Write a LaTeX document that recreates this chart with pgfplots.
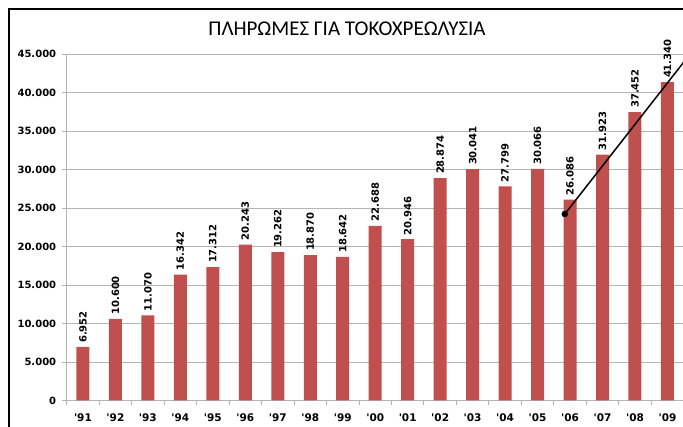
\documentclass[border=0pt]{standalone}
\usepackage{pgfplots}
\pgfplotsset{compat=1.18}
\usepackage{fontspec}
\setmainfont{DejaVu Sans}
\newfontfamily\titlefont{Carlito}
\definecolor{barred}{RGB}{192,80,77}
\definecolor{gridgray}{RGB}{180,180,180}
\begin{document}
\begin{tikzpicture}[x=1pt,y=1pt]
\useasboundingbox (0,0) rectangle (683,427);
\clip (0,0) rectangle (683,427);
\draw[black, line width=2.5pt] (9,-5) -- (9,418) -- (690,418);
\node[font=\titlefont\fontsize{21}{24}\selectfont] at (347,398) {ΠΛΗΡΩΜΕΣ ΓΙΑ ΤΟΚΟΧΡΕΩΛΥΣΙΑ};
\begin{axis}[
  at={(66.7pt,26.5pt)}, anchor=south west,
  scale only axis, width=617pt, height=346.5pt,
  xmin=-0.5, xmax=18.5, ymin=0, ymax=45000,
  clip=false,
  axis lines*=left,
  axis line style={gridgray, line width=0.9pt},
  ytick={0,5000,...,45000},
  ymajorgrids, grid style={gridgray, line width=0.9pt},
  xtick={0,...,18},
  xticklabels={\textquotesingle 91,\textquotesingle 92,\textquotesingle 93,\textquotesingle 94,\textquotesingle 95,\textquotesingle 96,\textquotesingle 97,\textquotesingle 98,\textquotesingle 99,\textquotesingle 00,\textquotesingle 01,\textquotesingle 02,\textquotesingle 03,\textquotesingle 04,\textquotesingle 05,\textquotesingle 06,\textquotesingle 07,\textquotesingle 08,\textquotesingle 09},
  minor xtick={-0.5,0.5,...,18.5},
  major x tick style={draw=none},
  minor x tick style={gridgray, line width=0.9pt},
  y tick style={gridgray, line width=0.9pt},
  tick align=outside,
  major tick length=5pt, minor tick length=5pt,
  scaled y ticks=false,
  yticklabel style={font=\bfseries\fontsize{10}{12}\selectfont, xshift=-2pt},
  xticklabel style={font=\bfseries\fontsize{10.5}{12}\selectfont, yshift=-5pt},
  /pgf/number format/.cd, 1000 sep={.}, fixed, precision=0, assume math mode=true,
]
\addplot[ybar, bar width=13pt, fill=barred, draw=none,
  nodes near coords,
  nodes near coords style={rotate=90, anchor=west, inner sep=4pt, text=black, font=\bfseries\fontsize{10}{12}\selectfont}]
coordinates {
(0,6952) (1,10600) (2,11070) (3,16342) (4,17312) (5,20243) (6,19262) (7,18870) (8,18642) (9,22688)
(10,20946) (11,28874) (12,30041) (13,27799) (14,30066) (15,26086) (16,31923) (17,37452) (18,41340)
};
\addplot[black, line width=1.5pt, mark=*, mark size=2.5pt, mark indices={1}]
coordinates {(14.84,24220) (18.9,46094)};
\end{axis}
\end{tikzpicture}
\end{document}
